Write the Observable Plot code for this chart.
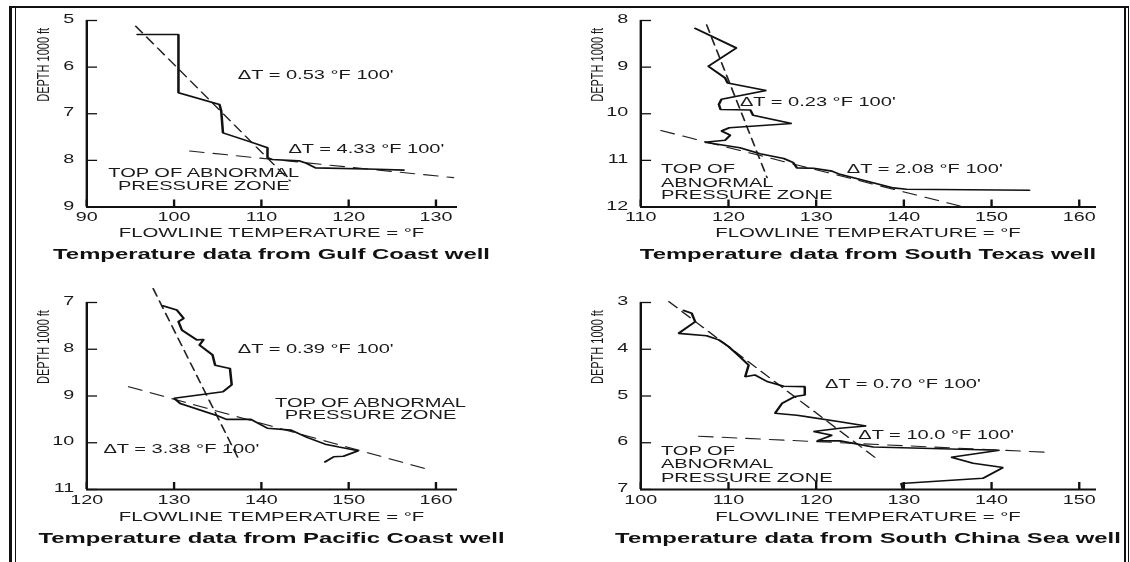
<!DOCTYPE html>
<html>
<head>
<meta charset="utf-8">
<script src="https://cdn.jsdelivr.net/npm/d3@7"></script>
<script src="https://cdn.jsdelivr.net/npm/@observablehq/plot@0.6"></script>
<style>
  body { margin: 0; background: #fff; }
  #page { position: relative; width: 1130px; height: 562px; overflow: hidden; background: #fff;
          font-family: "Liberation Sans", Arial, sans-serif; }
  .bar { position: absolute; background: #111; }
  .panel { position: absolute; transform: scaleX(1.58); transform-origin: 0 0; }
  .panel svg { position: absolute; left: 0; top: 0; overflow: visible; }
  .xlab { position: absolute; width: 400px; text-align: center; font-size: 12.9px; line-height: 1;
          color: #1a1a1a; white-space: nowrap; }
  .title { position: absolute; width: 400px; text-align: center; font-size: 15.1px; line-height: 1;
           font-weight: bold; color: #111; white-space: nowrap; }
</style>
</head>
<body>
<div id="page">
  <div class="bar" style="left:9px;top:6px;width:2.5px;height:556px"></div>
  <div class="bar" style="left:14.5px;top:6px;width:1.4px;height:556px"></div>
  <div class="bar" style="left:9px;top:6px;width:1120px;height:2px"></div>
  <div class="bar" style="left:1124px;top:6px;width:2px;height:556px"></div>
  <div class="bar" style="left:1127.5px;top:6px;width:1px;height:556px"></div>
</div>
<script>
// ---------- data ----------
const yLabel = "DEPTH 1000 ft";
const xLabel = "FLOWLINE TEMPERATURE = °F";

// Gulf Coast well
const gulfTitle = "Temperature data from Gulf Coast well";
const gulfXTicks = [90, 100, 110, 120, 130];
const gulfYTicks = [5, 6, 7, 8, 9];
const gulfTemp  = [95.8, 100.5, 100.5, 105.2, 105.4, 105.6, 109.0, 110.7, 110.7, 111.2, 114.3, 115.0, 116.2, 123.3, 126.3];
const gulfDepth = [5.30, 5.30, 6.55, 6.80, 6.94, 7.41, 7.62, 7.73, 7.94, 7.98, 8.01, 8.05, 8.16, 8.19, 8.21];
const gulfNormalTemp = [95.6, 113.3];
const gulfNormalDepth = [5.12, 8.44];
const gulfAbnormalTemp = [101.8, 132.0];
const gulfAbnormalDepth = [7.80, 8.37];
const gulfGradients = ["ΔT = 0.53 °F 100'", "ΔT = 4.33 °F 100'"];

// South Texas well
const texasTitle = "Temperature data from South Texas well";
const texasXTicks = [110, 120, 130, 140, 150, 160];
const texasYTicks = [8, 9, 10, 11, 12];
const texasTemp  = [116.2, 120.9, 117.7, 119.6, 119.9, 124.3, 119.2, 118.9, 119.1, 122.5, 122.8, 127.2, 120.1, 119.2, 120.2,
                    119.6, 117.3, 121.3, 123.6, 126.3, 127.4, 127.8, 129.7, 131.8, 132.7, 135.7, 138.8, 140.3, 154.3];
const texasDepth = [8.17, 8.59, 8.98, 9.23, 9.34, 9.50, 9.69, 9.80, 9.91, 9.92, 10.03, 10.21, 10.30, 10.37, 10.46,
                    10.57, 10.61, 10.73, 10.86, 10.96, 11.05, 11.16, 11.17, 11.23, 11.30, 11.44, 11.59, 11.62, 11.64];
const texasNormalTemp = [117.5, 124.4];
const texasNormalDepth = [8.09, 11.37];
const texasAbnormalTemp = [112.3, 146.4];
const texasAbnormalDepth = [10.36, 11.98];
const texasGradients = ["ΔT = 0.23 °F 100'", "ΔT = 2.08 °F 100'"];

// Pacific Coast well
const pacificTitle = "Temperature data from Pacific Coast well";
const pacificXTicks = [120, 130, 140, 150, 160];
const pacificYTicks = [7, 8, 9, 10, 11];
const pacificTemp  = [128.7, 130.3, 131.1, 130.5, 130.9, 132.6, 133.4, 132.9, 134.4, 134.7, 136.4, 136.6, 135.6, 130.0,
                      130.7, 134.8, 136.0, 138.8, 140.7, 143.4, 145.3, 147.3, 148.9, 151.1, 149.4, 148.3, 147.3];
const pacificDepth = [7.07, 7.16, 7.34, 7.41, 7.59, 7.80, 7.79, 7.91, 8.12, 8.34, 8.41, 8.76, 8.91, 9.05,
                      9.16, 9.41, 9.50, 9.50, 9.69, 9.73, 9.89, 10.03, 10.09, 10.17, 10.29, 10.30, 10.41];
const pacificNormalTemp = [127.6, 137.5];
const pacificNormalDepth = [6.70, 10.39];
const pacificAbnormalTemp = [124.8, 158.7];
const pacificAbnormalDepth = [8.80, 10.55];
const pacificGradients = ["ΔT = 0.39 °F 100'", "ΔT = 3.38 °F 100'"];

// South China Sea well
const chinaTitle = "Temperature data from South China Sea well";
const chinaXTicks = [100, 110, 120, 130, 140, 150];
const chinaYTicks = [3, 4, 5, 6, 7];
const chinaTemp  = [104.9, 105.8, 106.2, 104.3, 107.5, 108.9, 110.0, 111.3, 112.3, 111.9, 113.0, 114.4, 116.3, 118.7, 118.7,
                    117.6, 116.1, 115.3, 117.8, 122.7, 125.7, 122.7, 119.7, 121.8, 120.1, 122.7, 126.5, 140.9, 135.4,
                    137.9, 141.3, 139.0, 129.7, 129.9];
const chinaDepth = [3.17, 3.23, 3.41, 3.66, 3.71, 3.80, 3.94, 4.16, 4.34, 4.59, 4.55, 4.69, 4.79, 4.80, 4.98,
                    5.01, 5.16, 5.37, 5.41, 5.55, 5.64, 5.69, 5.76, 5.84, 5.96, 5.96, 6.09, 6.16, 6.31,
                    6.44, 6.53, 6.76, 6.87, 7.00];
const chinaNormalTemp = [103.2, 127.1];
const chinaNormalDepth = [2.98, 6.37];
const chinaAbnormalTemp = [106.6, 147.0];
const chinaAbnormalDepth = [5.86, 6.21];
const chinaGradients = ["ΔT = 0.70 °F 100'", "ΔT = 10.0 °F 100'"];

const zoneOneLine = ["TOP OF ABNORMAL", "PRESSURE ZONE"];
const zoneThreeLines = ["TOP OF", "ABNORMAL", "PRESSURE ZONE"];

// ---------- drawing ----------
const S = 1.58;
const FONT = "'Liberation Sans', Arial, sans-serif";
const page = document.getElementById("page");
const pairs = (t, d) => t.map((v, i) => ({t: v, d: d[i]}));

function drawPanel(c) {
  const wrap = document.createElement("div");
  wrap.className = "panel";
  wrap.style.left = c.left + "px";
  wrap.style.top = c.top + "px";
  wrap.style.width = c.width + "px";
  wrap.style.height = "280px";
  const H = 225;
  const mt = 20, pb = c.pb;
  const plotW = c.pr - c.ml, plotH = pb - mt;
  const TICK = 7;
  const chart = Plot.plot({
    width: c.width, height: H,
    marginLeft: c.ml, marginRight: c.width - c.pr, marginTop: mt, marginBottom: H - pb,
    style: {fontFamily: FONT, fontSize: "12px", color: "#1a1a1a", background: "transparent", overflow: "visible"},
    x: {domain: c.xDomain},
    y: {domain: c.yDomain, reverse: true},
    marks: [
      Plot.axisY(c.yTicks, {anchor: "left", tickSize: 0, tickPadding: 8, dy: -1.5, fontSize: 12.5, label: null}),
      Plot.axisX(c.xTicks, {anchor: "bottom", tickSize: 0, tickPadding: 5.5, fontSize: 12.5, label: null}),
      Plot.tickY(c.yTicks, {y: d => d, insetRight: plotW - TICK, stroke: "#111", strokeWidth: 1.3}),
      Plot.tickX(c.xTicks, {x: d => d, insetTop: plotH - TICK, stroke: "#111", strokeWidth: 1.5}),
      Plot.ruleX([c.xDomain[0]], {stroke: "#111", strokeWidth: 1.5}),
      Plot.ruleY([c.yDomain[1]], {stroke: "#111", strokeWidth: 1.8}),
      Plot.line(pairs(c.normalTemp, c.normalDepth), {x: "t", y: "d", stroke: "#222", strokeWidth: 1.1, strokeDasharray: "8,5"}),
      Plot.line(pairs(c.abnormalTemp, c.abnormalDepth), {x: "t", y: "d", stroke: "#222", strokeWidth: 1.1, strokeDasharray: "9,6"}),
      Plot.line(pairs(c.temp, c.depth), {x: "t", y: "d", stroke: "#111", strokeWidth: 1.6, strokeLinejoin: "miter"}),
      Plot.text([yLabel], {frameAnchor: "left", rotate: -90, dx: -27.5, dy: -12, fontSize: 11, fill: "#1a1a1a"}),
      Plot.text(c.notesStart, {x: "t", y: "d", text: "s", textAnchor: "start", fontSize: 12.7, fill: "#1a1a1a"}),
      Plot.text(c.notesMiddle, {x: "t", y: "d", text: "s", textAnchor: "middle", fontSize: 12.7, fill: "#1a1a1a"})
    ]
  });
  wrap.appendChild(chart);
  const cx = (c.ml + c.pr) / 2;
  const xl = document.createElement("div");
  xl.className = "xlab";
  xl.textContent = xLabel;
  xl.style.left = (cx - 200) + "px";
  xl.style.top = (c.labelY - 6.3) + "px";
  wrap.appendChild(xl);
  const tt = document.createElement("div");
  tt.className = "title";
  tt.textContent = c.title;
  tt.style.left = (cx - 200) + "px";
  tt.style.top = (c.titleY - 7.4) + "px";
  wrap.appendChild(tt);
  page.appendChild(wrap);
}

const leftCol = {left: 0, width: 300, ml: 86 / S, pr: 457 / S};
const rightCol = {left: 560, width: 350, ml: 80 / S, pr: 536 / S};

drawPanel({...leftCol, top: 0, pb: 206.5, labelY: 233, titleY: 253,
  title: gulfTitle, xDomain: [90, 132.5], yDomain: [5, 9], xTicks: gulfXTicks, yTicks: gulfYTicks,
  temp: gulfTemp, depth: gulfDepth,
  normalTemp: gulfNormalTemp, normalDepth: gulfNormalDepth,
  abnormalTemp: gulfAbnormalTemp, abnormalDepth: gulfAbnormalDepth,
  notesStart: [{s: gulfGradients[0], t: 107.3, d: 6.16}, {s: gulfGradients[1], t: 113.1, d: 7.76}],
  notesMiddle: [{s: zoneOneLine[0], t: 103.4, d: 8.26}, {s: zoneOneLine[1], t: 103.4, d: 8.55}]
});

drawPanel({...rightCol, top: 0, pb: 206.5, labelY: 233, titleY: 253,
  title: texasTitle, xDomain: [110, 162], yDomain: [8, 12], xTicks: texasXTicks, yTicks: texasYTicks,
  temp: texasTemp, depth: texasDepth,
  normalTemp: texasNormalTemp, normalDepth: texasNormalDepth,
  abnormalTemp: texasAbnormalTemp, abnormalDepth: texasAbnormalDepth,
  notesStart: [{s: texasGradients[0], t: 121.3, d: 9.74}, {s: texasGradients[1], t: 133.5, d: 11.19},
               {s: zoneThreeLines[0], t: 112.3, d: 11.19}, {s: zoneThreeLines[1], t: 112.3, d: 11.48},
               {s: zoneThreeLines[2], t: 112.3, d: 11.75}],
  notesMiddle: []
});

drawPanel({...leftCol, top: 282, pb: 207, labelY: 235, titleY: 255.5,
  title: pacificTitle, xDomain: [120, 162.5], yDomain: [7, 11], xTicks: pacificXTicks, yTicks: pacificYTicks,
  temp: pacificTemp, depth: pacificDepth,
  normalTemp: pacificNormalTemp, normalDepth: pacificNormalDepth,
  abnormalTemp: pacificAbnormalTemp, abnormalDepth: pacificAbnormalDepth,
  notesStart: [{s: pacificGradients[0], t: 137.3, d: 8.0}, {s: pacificGradients[1], t: 121.9, d: 10.14}],
  notesMiddle: [{s: zoneOneLine[0], t: 152.5, d: 9.14}, {s: zoneOneLine[1], t: 152.5, d: 9.41}]
});

drawPanel({...rightCol, top: 282, pb: 207, labelY: 235, titleY: 255.5,
  title: chinaTitle, xDomain: [100, 152], yDomain: [3, 7], xTicks: chinaXTicks, yTicks: chinaYTicks,
  temp: chinaTemp, depth: chinaDepth,
  normalTemp: chinaNormalTemp, normalDepth: chinaNormalDepth,
  abnormalTemp: chinaAbnormalTemp, abnormalDepth: chinaAbnormalDepth,
  notesStart: [{s: chinaGradients[0], t: 121.0, d: 4.74}, {s: chinaGradients[1], t: 124.8, d: 5.84},
               {s: zoneThreeLines[0], t: 102.3, d: 6.17}, {s: zoneThreeLines[1], t: 102.3, d: 6.46},
               {s: zoneThreeLines[2], t: 102.3, d: 6.75}],
  notesMiddle: []
});
</script>
</body>
</html>
